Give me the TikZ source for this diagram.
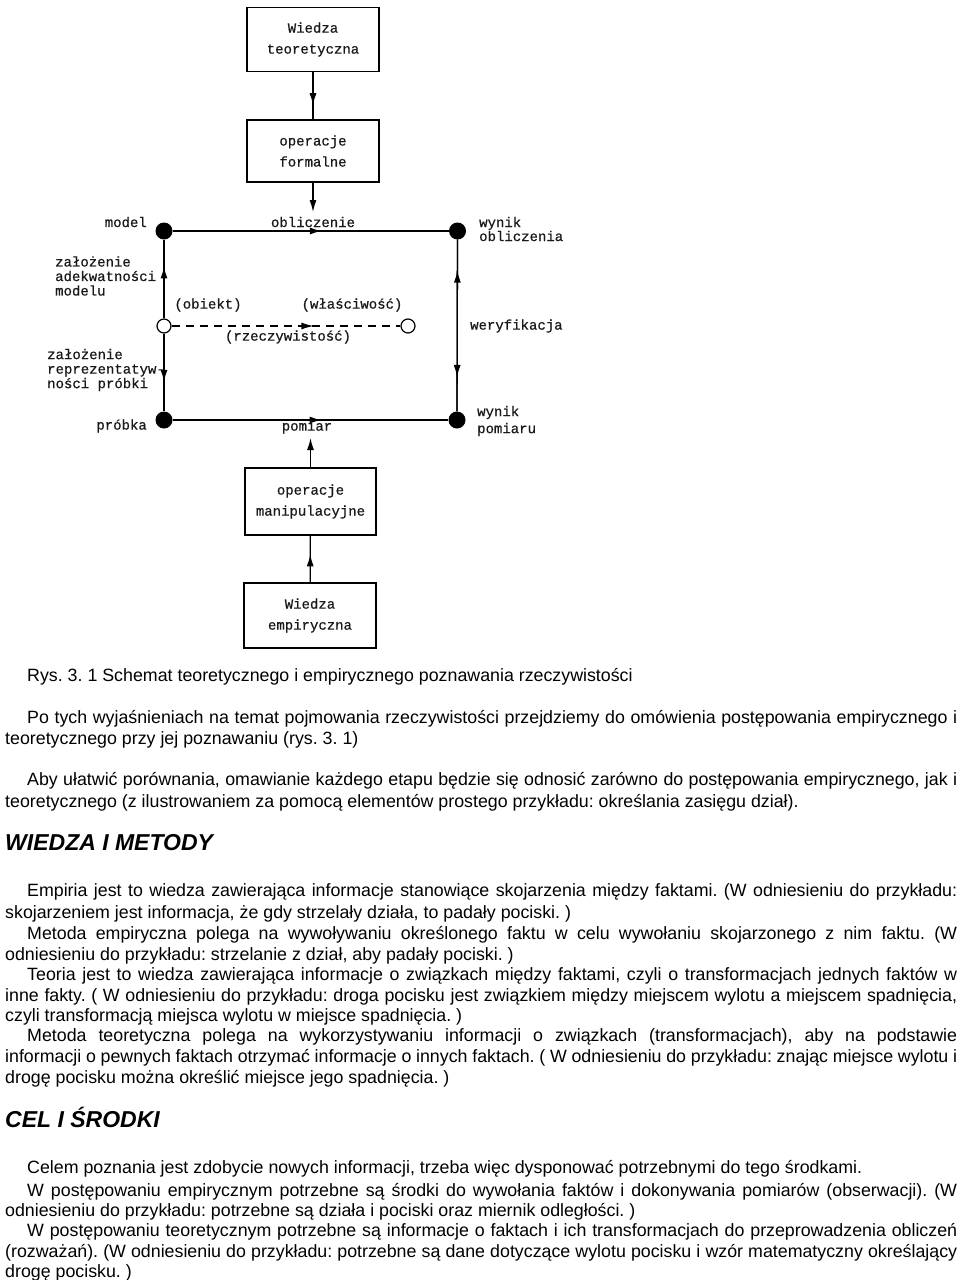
\documentclass[tikz,border=0pt]{standalone}
\usepackage{fontspec}
\setmainfont{Liberation Sans}
\newfontfamily\diagfont[FakeBold=0.6]{Liberation Mono}
\usetikzlibrary{arrows.meta,decorations.markings}
\newcommand{\jlA}[1]{\makebox[930pt][s]{#1}}
\newcommand{\jlB}[1]{\makebox[952pt][s]{#1}}
\frenchspacing
\begin{document}
\begin{tikzpicture}[x=1pt,y=-1pt,
  box/.style={draw, line width=1.3pt, minimum width=132pt, minimum height=64pt, align=center,
    font=\diagfont\fontsize{14}{21}\selectfont, inner sep=0pt, text=black!90},
  lab/.style={font=\diagfont\fontsize{14}{14.5}\selectfont, inner sep=0pt, text=black!90},
  bigdot/.style={circle, fill=black, minimum size=17pt, inner sep=0pt},
  opendot/.style={circle, draw, fill=white, line width=1.2pt, minimum size=14pt, inner sep=0pt},
  ln/.style={line width=1.3pt},
  tip/.style={-{Latex[length=12pt,width=7pt]}},
  markarr/.style={postaction={decorate}, decoration={markings,
    mark=at position #1 with {\arrow{Latex[length=12pt,width=7pt]}}}},
  body/.style={anchor=base west, inner sep=0pt, font=\fontsize{17.8}{21}\selectfont},
  head/.style={anchor=base west, inner sep=0pt, font=\bfseries\itshape\fontsize{23}{27}\selectfont}
]
\useasboundingbox[fill=white] (0,0) rectangle (960,1280);

% boxes
\node[box] (wt) at (313,39.5) {Wiedza\\teoretyczna};
\node[box, minimum height=62pt] (of) at (313,151) {operacje\\formalne};
\node[box, minimum width=131pt, minimum height=67pt] (om) at (310.5,501.5) {operacje\\manipulacyjne};
\node[box, minimum height=65pt] (we) at (310,615.5) {Wiedza\\empiryczna};

% dots
\node[bigdot] (m) at (164,231) {};
\node[bigdot] (wo) at (457.5,231) {};
\node[bigdot] (pr) at (164,420) {};
\node[bigdot] (wp) at (457,420) {};
\node[opendot] (ob) at (164,326) {};
\node[opendot] (wl) at (408,326) {};
\coordinate (oblc) at (313,212);
\coordinate (pomc) at (310.5,438);

% connectors
\draw[ln, markarr=0.7] (wt) -- (of);
\draw[ln, tip] (of) -- (oblc);
\draw[ln, markarr=0.54] (m) -- (wo);
\draw[ln, markarr=0.54] (pr) -- (wp);
\draw[ln, markarr=0.66] (ob) -- (m);
\draw[ln, markarr=0.62] (ob) -- (pr);
\draw[ln, markarr=0.82] (wp) -- (wo);
\draw[ln, markarr=0.80] (wo) -- (wp);
\draw[line width=1.2pt, dash pattern=on 8pt off 6pt, markarr=0.62] (ob) -- (wl);
\draw[ln, tip] (om) -- (pomc);
\draw[ln, markarr=0.6] (we) -- (om);

% labels
\node[lab] (lobl) at (313,222) {obliczenie};
\node[lab] (lpom) at (307,427) {pomiar};
\node[lab, anchor=east] (lmod) at (147,222) {model};
\node[lab, anchor=east] (lprb) at (147,426) {próbka};
\node[lab, anchor=west, align=left] (lzal) at (55,276) {założenie\\adekwatności\\modelu};
\node[lab, anchor=west, align=left] (lrep) at (47,370) {założenie\\reprezentatyw-\\ności próbki};
\node[lab, anchor=west, align=left, font=\diagfont\fontsize{14}{14}\selectfont] (lwo) at (479,229) {wynik\\obliczenia};
\node[lab, anchor=west] (lwer) at (470,326) {weryfikacja};
\node[lab, anchor=west, align=left, font=\diagfont\fontsize{14}{17}\selectfont] (lwp) at (477,421) {wynik\\pomiaru};
\node[lab] (lobk) at (208,305) {(obiekt)};
\node[lab] (lwla) at (352,305) {(właściwość)};
\node[lab] (lrze) at (288,337) {(rzeczywistość)};

% text
\node[body] (t1) at (27,681) {Rys. 3. 1 Schemat teoretycznego i empirycznego poznawania rzeczywistości};
\node[body] (t2) at (27,723) {\jlA{Po tych wyjaśnieniach na temat pojmowania rzeczywistości przejdziemy do omówienia postępowania empirycznego i}};
\node[body] (t3) at (5,744) {teoretycznego przy jej poznawaniu (rys. 3. 1)};
\node[body] (t4) at (27,785) {\jlA{Aby ułatwić porównania, omawianie każdego etapu będzie się odnosić zarówno do postępowania empirycznego, jak i}};
\node[body] (t5) at (5,807) {teoretycznego (z ilustrowaniem za pomocą elementów prostego przykładu: określania zasięgu dział).};
\node[head] (h1) at (5,850) {WIEDZA I METODY};
\node[body] (t6) at (27,896) {\jlA{Empiria jest to wiedza zawierająca informacje stanowiące skojarzenia między faktami. (W odniesieniu do przykładu:}};
\node[body] (t7) at (5,918) {skojarzeniem jest informacja, że gdy strzelały działa, to padały pociski. )};
\node[body] (t8) at (27,939) {\jlA{Metoda empiryczna polega na wywoływaniu określonego faktu w celu wywołaniu skojarzonego z nim faktu. (W}};
\node[body] (t9) at (5,960) {odniesieniu do przykładu: strzelanie z dział, aby padały pociski. )};
\node[body] (t10) at (27,980) {\jlA{Teoria jest to wiedza zawierająca informacje o związkach między faktami, czyli o transformacjach jednych faktów w}};
\node[body] (t11) at (5,1001) {\jlB{inne fakty. ( W odniesieniu do przykładu: droga pocisku jest związkiem między miejscem wylotu a miejscem spadnięcia,}};
\node[body] (t12) at (5,1021) {czyli transformacją miejsca wylotu w miejsce spadnięcia. )};
\node[body] (t13) at (27,1041) {\jlA{Metoda teoretyczna polega na wykorzystywaniu informacji o związkach (transformacjach), aby na podstawie}};
\node[body] (t14) at (5,1062) {\jlB{informacji o pewnych faktach otrzymać informacje o innych faktach. ( W odniesieniu do przykładu: znając miejsce wylotu i}};
\node[body] (t15) at (5,1083) {drogę pocisku można określić miejsce jego spadnięcia. )};
\node[head] (h2) at (5,1127) {CEL I ŚRODKI};
\node[body] (t16) at (27,1173) {Celem poznania jest zdobycie nowych informacji, trzeba więc dysponować potrzebnymi do tego środkami.};
\node[body] (t17) at (27,1196) {\jlA{W postępowaniu empirycznym potrzebne są środki do wywołania faktów i dokonywania pomiarów (obserwacji). (W}};
\node[body] (t18) at (5,1216) {odniesieniu do przykładu: potrzebne są działa i pociski oraz miernik odległości. )};
\node[body] (t19) at (27,1236) {\jlA{W postępowaniu teoretycznym potrzebne są informacje o faktach i ich transformacjach do przeprowadzenia obliczeń}};
\node[body] (t20) at (5,1257) {\jlB{(rozważań). (W odniesieniu do przykładu: potrzebne są dane dotyczące wylotu pocisku i wzór matematyczny określający}};
\node[body] (t21) at (5,1277) {drogę pocisku. )};
\end{tikzpicture}
\end{document}
